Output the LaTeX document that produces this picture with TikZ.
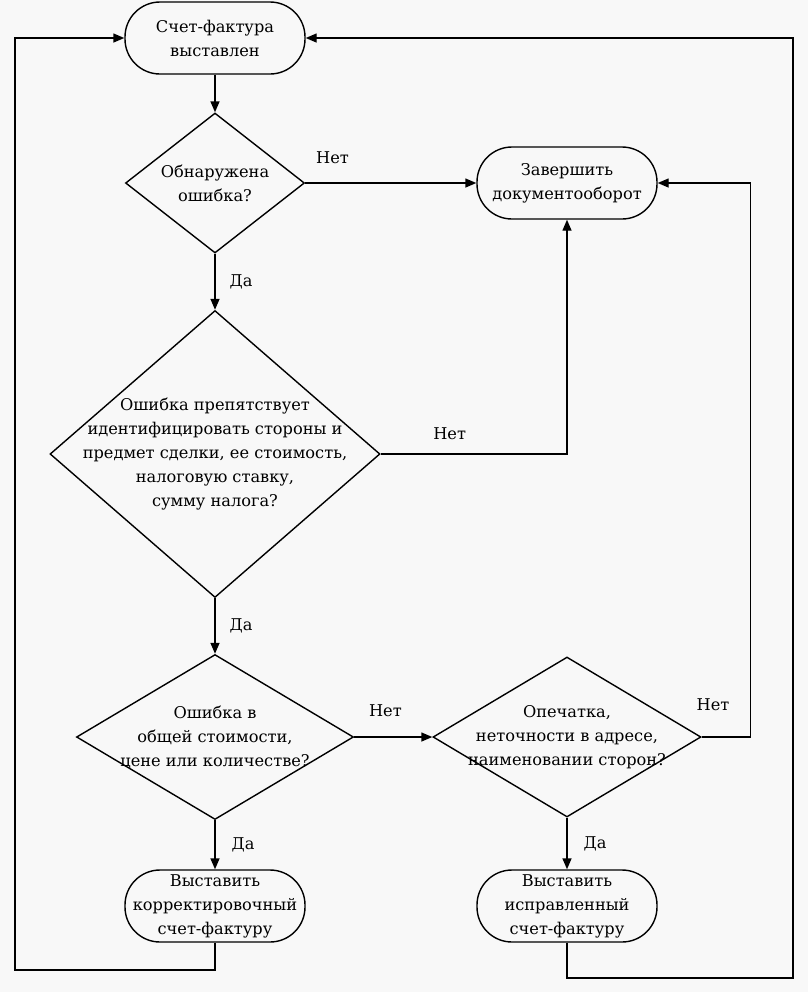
\documentclass[tikz,border=0pt]{standalone}
\usepackage{fontspec}
\setmainfont{DejaVu Serif}
\usetikzlibrary{arrows.meta, shapes.geometric, positioning}
\definecolor{paper}{RGB}{248,248,248}

\begin{document}
\begin{tikzpicture}[x=0.5pt, y=-0.5pt, >={Triangle[length=5.5pt, width=4.5pt]},
    line width=0.7pt, font=\fontsize{8.1}{12}\selectfont,
    term/.style={draw, rectangle, rounded corners=17.5pt, align=center,
      minimum width=90pt, minimum height=36pt, inner sep=1pt},
    quest/.style={draw, diamond, inner sep=0pt},
    lbl/.style={inner sep=1pt}]
  % page
  \fill[paper] (0,0) rectangle (808,992);
  \useasboundingbox (0,0) rectangle (808,992);
  % Terminals
  \node[term] (start) at (215,38) {Счет-фактура\\выставлен};
  \node[term] (finish) at (567,183) {Завершить\\документооборот};
  \node[term] (corr) at (215,906) {Выставить\\корректировочный\\счет-фактуру};
  \node[term] (fix) at (567,906) {Выставить\\исправленный\\счет-фактуру};
  % Questions
  \node[quest, minimum width=89.5pt, minimum height=70pt,
    label={[align=center]center:Обнаружена\\ошибка?}] (q1) at (215,183) {};
  \node[quest, minimum width=165pt, minimum height=143.5pt,
    label={[align=center]center:Ошибка препятствует\\идентифицировать стороны и\\предмет сделки, ее стоимость,\\налоговую ставку,\\сумму налога?}] (q2) at (215,454) {};
  \node[quest, minimum width=138.5pt, minimum height=82.5pt,
    label={[align=center]center:Ошибка в\\общей стоимости,\\цене или количестве?}] (q3) at (215,737) {};
  \node[quest, minimum width=134pt, minimum height=80pt,
    label={[align=center]center:Опечатка,\\неточности в адресе,\\наименовании сторон?}] (q4) at (567,737) {};
  % Loop corners
  \coordinate (lloop) at (15,970);
  \coordinate (rloop) at (793,978);
  % Connectors
  \draw[->] (start) -- (q1);
  \draw[->] (q1.east) -- node[lbl, pos=0.16, above=8.5pt] {Нет} (finish.west);
  \draw[->] (q1) -- node[lbl, right=6pt] {Да} (q2);
  \draw[->] (q2.east) -| node[lbl, pos=0.185, above=6pt] {Нет} (finish.south);
  \draw[->] (q2) -- node[lbl, right=6pt] {Да} (q3);
  \draw[->] (q3.east) -- node[lbl, pos=0.4, above=9pt] {Нет} (q4.west);
  \draw[->] (q3) -- node[lbl, right=7pt] {Да} (corr);
  \draw[->] (q4) -- node[lbl, right=7pt] {Да} (fix);
  \draw[->] (q4.east) -- node[lbl, pos=0.23, above=12pt] {Нет} ++(49,0) |- (finish.east);
  \draw[->] (corr.south) |- (lloop) |- (start.west);
  \draw[->] (fix.south) |- (rloop) |- (start.east);
\end{tikzpicture}
\end{document}
